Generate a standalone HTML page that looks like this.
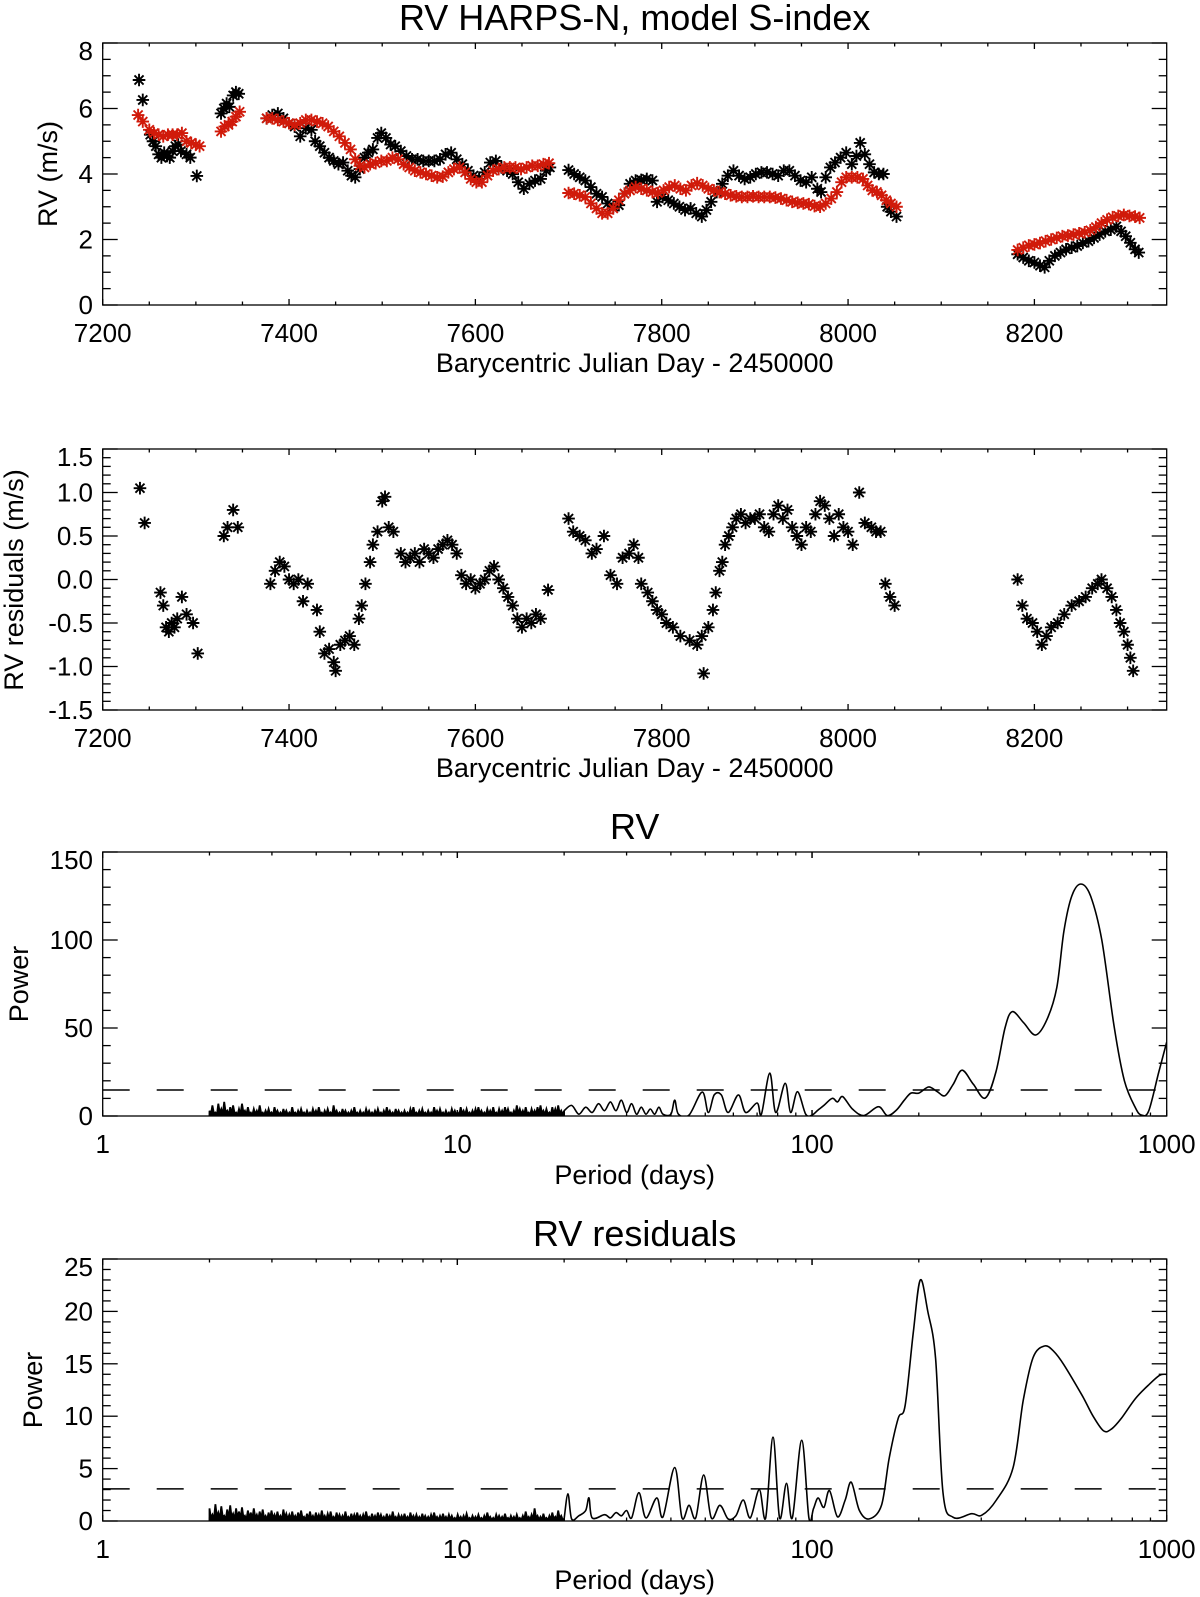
<!DOCTYPE html>
<html><head><meta charset="utf-8"><style>
html,body{margin:0;padding:0;background:#fff}
svg{display:block;font-family:"Liberation Sans",Arial,sans-serif}
</style></head><body>
<svg id="fig" width="1200" height="1597" viewBox="0 0 1200 1597" xmlns="http://www.w3.org/2000/svg"></svg>
<script>
// ===== DATA =====
const rvObsT=[7239,7243,7251,7254,7257,7260,7263,7266,7269,7272,7275,7278,7281,7284,7290,7294,7301,7327,7330,7333,7336,7340,7343,7346,7376,7382,7388,7394,7400,7406,7412,7418,7424,7428,7433,7438,7443,7448,7453,7458,7463,7467,7471,7476,7481,7485,7490,7495,7499,7504,7509,7514,7520,7526,7532,7538,7544,7550,7556,7562,7568,7574,7580,7586,7592,7598,7604,7610,7616,7622,7628,7634,7640,7646,7652,7658,7664,7670,7676,7680,7700,7706,7712,7718,7724,7730,7736,7742,7748,7754,7760,7766,7772,7778,7784,7790,7795,7801,7807,7813,7819,7825,7831,7837,7843,7848,7853,7859,7865,7871,7877,7883,7889,7895,7901,7907,7913,7919,7925,7931,7937,7943,7949,7955,7961,7967,7971,7976,7981,7986,7992,7998,8004,8009,8013,8018,8023,8028,8033,8038,8042,8046,8052,8182,8188,8194,8200,8206,8211,8216,8222,8228,8234,8240,8246,8252,8258,8264,8270,8276,8282,8288,8293,8298,8303,8308,8312];
const rvObsV=[6.87,6.26,5.2,5.0,4.85,4.6,4.5,4.65,4.55,4.5,4.7,4.85,4.9,4.7,4.6,4.5,3.94,5.85,6.0,6.15,6.05,6.4,6.5,6.45,5.7,5.8,5.85,5.7,5.55,5.45,5.15,5.4,5.35,5.0,4.85,4.65,4.5,4.4,4.3,4.35,4.1,3.95,3.9,4.15,4.5,4.65,4.75,5.1,5.25,5.1,4.9,4.85,4.7,4.55,4.45,4.45,4.4,4.4,4.4,4.45,4.6,4.65,4.45,4.3,4.1,3.95,3.85,4.05,4.35,4.4,4.2,4.1,4.0,3.75,3.55,3.7,3.8,3.85,4.1,4.2,4.12,4.0,3.9,3.8,3.6,3.4,3.3,3.1,3.0,3.05,3.4,3.7,3.8,3.82,3.85,3.8,3.15,3.3,3.2,3.1,3.0,2.9,2.95,2.8,2.7,2.9,3.15,3.45,3.7,3.95,4.1,3.95,3.85,3.9,4.0,4.05,4.05,4.0,3.95,4.1,4.1,3.95,3.8,3.75,3.9,3.55,3.45,3.9,4.2,4.35,4.5,4.65,4.3,4.55,4.95,4.6,4.3,4.05,4.0,4.0,3.0,2.85,2.7,1.55,1.45,1.35,1.3,1.2,1.15,1.35,1.5,1.6,1.7,1.75,1.8,1.9,1.95,2.05,2.15,2.25,2.3,2.4,2.25,2.1,1.9,1.7,1.6];
const rvModT=[7238,7243,7250,7255,7260,7265,7270,7275,7280,7285,7290,7295,7300,7304,7327,7331,7335,7339,7343,7347,7376,7382,7388,7394,7400,7406,7412,7418,7424,7430,7436,7442,7448,7454,7460,7466,7471,7476,7481,7487,7493,7499,7505,7511,7517,7523,7529,7535,7541,7547,7553,7559,7565,7571,7577,7583,7589,7595,7601,7607,7613,7619,7625,7631,7637,7643,7649,7655,7661,7667,7673,7679,7700,7706,7712,7718,7724,7730,7736,7742,7748,7754,7760,7766,7772,7778,7784,7790,7796,7802,7808,7814,7820,7826,7832,7838,7844,7850,7856,7862,7868,7874,7880,7886,7892,7898,7904,7910,7916,7922,7928,7934,7940,7946,7952,7958,7964,7970,7976,7982,7988,7993,7998,8004,8010,8016,8021,8026,8031,8036,8041,8046,8052,8182,8188,8194,8200,8206,8212,8218,8224,8230,8236,8242,8248,8254,8260,8266,8272,8278,8284,8290,8296,8302,8308,8313];
const rvModV=[5.8,5.6,5.35,5.25,5.2,5.15,5.2,5.2,5.2,5.25,5.0,4.95,4.9,4.85,5.3,5.45,5.5,5.6,5.75,5.9,5.7,5.7,5.65,5.6,5.55,5.5,5.55,5.65,5.65,5.6,5.55,5.45,5.3,5.15,4.95,4.75,4.45,4.25,4.2,4.3,4.33,4.4,4.4,4.5,4.45,4.3,4.2,4.1,4.05,4.0,3.95,3.9,3.92,4.05,4.15,4.2,4.05,3.85,3.75,3.75,3.95,4.1,4.15,4.2,4.2,4.2,4.15,4.2,4.25,4.25,4.3,4.33,3.42,3.4,3.35,3.3,3.1,2.95,2.8,2.8,2.95,3.2,3.4,3.5,3.6,3.55,3.5,3.45,3.42,3.5,3.6,3.65,3.55,3.5,3.65,3.72,3.65,3.55,3.5,3.45,3.4,3.35,3.32,3.3,3.3,3.32,3.3,3.3,3.3,3.28,3.25,3.2,3.15,3.12,3.1,3.08,3.02,3.0,3.1,3.25,3.45,3.75,3.9,3.9,3.9,3.85,3.65,3.5,3.45,3.35,3.2,3.1,3.0,1.68,1.75,1.82,1.85,1.89,1.95,2.0,2.05,2.1,2.12,2.15,2.19,2.22,2.28,2.38,2.5,2.6,2.68,2.72,2.75,2.72,2.7,2.66];
const resT=[7240,7245,7262,7265,7268,7271,7274,7277,7280,7285,7290,7297,7302,7330,7334,7340,7345,7380,7385,7390,7395,7400,7405,7410,7415,7420,7430,7433,7438,7443,7448,7450,7455,7460,7465,7470,7475,7478,7482,7487,7490,7495,7500,7503,7507,7512,7520,7525,7530,7535,7540,7545,7550,7555,7560,7565,7570,7575,7580,7585,7590,7595,7600,7605,7610,7615,7620,7625,7630,7635,7640,7645,7650,7655,7660,7665,7670,7678,7700,7705,7712,7718,7725,7730,7738,7745,7752,7758,7765,7770,7775,7778,7785,7790,7795,7800,7805,7812,7820,7830,7838,7843,7845,7850,7855,7858,7862,7865,7868,7872,7876,7880,7885,7890,7895,7900,7905,7910,7915,7920,7925,7930,7935,7940,7945,7950,7955,7960,7965,7970,7975,7980,7985,7990,7995,8000,8005,8012,8018,8025,8030,8035,8040,8045,8050,8182,8187,8192,8198,8203,8208,8213,8218,8225,8232,8240,8248,8255,8262,8268,8272,8278,8283,8288,8292,8296,8300,8303,8306];
const resV=[1.05,0.65,-0.15,-0.3,-0.55,-0.6,-0.5,-0.55,-0.45,-0.2,-0.4,-0.5,-0.85,0.5,0.6,0.8,0.6,-0.05,0.1,0.2,0.15,0.0,-0.05,0.0,-0.25,-0.05,-0.35,-0.6,-0.85,-0.8,-0.95,-1.05,-0.75,-0.7,-0.65,-0.75,-0.45,-0.3,-0.05,0.2,0.4,0.55,0.9,0.95,0.6,0.55,0.3,0.2,0.25,0.3,0.2,0.35,0.3,0.25,0.35,0.4,0.45,0.4,0.3,0.05,-0.05,0.0,-0.1,-0.05,0.0,0.1,0.15,0.0,-0.1,-0.2,-0.3,-0.45,-0.55,-0.45,-0.5,-0.4,-0.45,-0.12,0.7,0.55,0.5,0.45,0.3,0.35,0.5,0.05,-0.05,0.25,0.3,0.4,0.25,-0.05,-0.15,-0.25,-0.35,-0.4,-0.5,-0.55,-0.65,-0.7,-0.75,-0.65,-1.08,-0.55,-0.35,-0.15,0.1,0.2,0.4,0.5,0.6,0.7,0.75,0.65,0.7,0.7,0.75,0.6,0.55,0.75,0.85,0.7,0.8,0.6,0.5,0.4,0.6,0.55,0.75,0.9,0.85,0.7,0.5,0.75,0.6,0.55,0.4,1.0,0.65,0.6,0.55,0.55,-0.05,-0.2,-0.3,0.0,-0.3,-0.45,-0.5,-0.6,-0.75,-0.65,-0.55,-0.5,-0.4,-0.3,-0.25,-0.2,-0.1,-0.05,0.0,-0.1,-0.2,-0.35,-0.5,-0.6,-0.75,-0.9,-1.05];
const pg1Noise=[3,6,2,7,4,8,3,5,6,2,4,7,3,5,2,4,3,6,2,3,4,2,5,3,2,4,3,2,5,2,3,4,2,3,2,4,3,5,2,3,4,2,6,3,2,4,3,2,3,5,2,3,2,4,3,2,3,4,2,3,5,3,2,4,3,2,3,2,4,5,2,3,4,2,3,2,5,3,4,2,3,2,4,3,2,5,3,4,2,3,4,5,3,2,4,3,5,2,4,3,5,4,2,3,6,4,3,5,2,4,3,5,6,3,4,2,5,4,6,3];
const pg1Per=[20,21,22,23,24,25,26,27,28,29,30,31,32,33,34,35,36,37,38,40,41,42,45,49,51,53,55.5,58,62,65,70,72,76,79,84,87,91,96,100,104,108,114,118,122,130,140,154,163,173,182,190,200,213,225,237,250,265,285,308,330,350,367,395,427,460,490,513,540,573,610,656,711,760,817,850,890,950,1000];
const pg1Pow=[3,6,1,5,2,7,3,8,3,9,2,7,1,5,1,4,1,5,1,1,9,1,0.5,13.6,2,12,12,2,12,2,7.4,1,24.4,2,18.6,2,13.8,1,0.5,3.4,6,10,8,11,4,0.3,5.3,0.2,3.4,9,13,13,16.5,14,11.5,18,26,18,10.2,25,50,59.3,53,46,55,73,105,125,131.8,125,100,50.6,20,4.5,0.5,3,25,42];
const pg2Noise=[1.2,0.6,1.6,0.8,1.4,0.5,1.1,1.5,0.7,1.2,0.9,1.3,0.5,1.0,0.8,1.2,0.6,0.9,1.1,0.5,0.8,1.0,0.6,0.9,0.5,1.1,0.7,0.6,0.9,0.5,0.8,1.0,0.4,0.7,0.9,0.5,0.8,0.6,1.0,0.5,0.7,0.9,0.4,0.8,0.6,0.5,0.9,0.4,0.7,0.6,0.8,0.5,0.6,0.9,0.4,0.7,0.5,0.8,0.6,0.4,0.7,0.5,0.9,0.4,0.6,0.5,0.7,0.4,0.8,0.5,0.6,0.4,0.7,0.5,0.4,0.6,0.8,0.4,0.5,0.7,0.4,0.6,0.5,0.3,0.6,0.4,0.5,0.7,0.3,0.5,0.4,0.6,0.3,0.5,0.8,0.4,0.3,0.6,0.5,0.4,0.7,0.3,0.5,0.4,0.6,0.3,0.5,0.9,0.4,0.6,1.2,0.5,0.4,0.7,0.3,0.5,0.8,0.4,1.0,0.5];
const pg2Per=[20,20.5,21,22,23,23.5,24,26,27,28,29,30,31,32.5,34,36.5,38,41,43,45,47,49.5,52,55,58,61,64,67,71,74,77.6,81,84.7,88,93.5,98,101,104,108,112,118,124,129,136,145,157,165,175,183,193,202,212,223,234,250,282,301,331,369,394,420,452,480,513,577,620,664,700,745,817,890,955,1000];
const pg2Pow=[0.2,2.6,0.2,0.5,1.0,2.2,0.3,0.6,0.3,0.8,0.5,1.0,0.3,2.7,0.3,2.2,0.4,5.1,0.3,1.5,0.3,4.4,0.3,1.5,0.2,0.5,2.0,0.3,3,0.3,8,0.3,3.6,0.3,7.7,0.3,1.2,2.2,1.3,2.9,0.4,2,3.7,1,0.2,1.5,6,9.8,11,18,23,20,15.5,2.7,0.35,0.7,0.55,2,5.1,11.5,15.6,16.7,16.2,14.9,12,10,8.6,8.8,9.8,11.7,13,13.9,14];
const fapRV=14.8, fapRes=3.06;

// ===== DRAWING =====
const NS="http://www.w3.org/2000/svg";
const svg=document.getElementById('fig');
function mk(tag,attrs,parent){const e=document.createElementNS(NS,tag);for(const k in attrs)e.setAttribute(k,attrs[k]);(parent||svg).appendChild(e);return e;}
const XL=102.7, XR=1166.7;
const panels=[
 {id:'rv',y0:43,y1:305,xmin:7200,xmax:8342,ymin:0,ymax:8,log:false},
 {id:'res',y0:449,y1:710,xmin:7200,xmax:8342,ymin:-1.5,ymax:1.5,log:false},
 {id:'pg-rv',y0:852,y1:1116,xmin:1,xmax:1000,ymin:0,ymax:150,log:true},
 {id:'pg-res',y0:1259,y1:1521,xmin:1,xmax:1000,ymin:0,ymax:25,log:true}
];
panels.forEach(p=>{
 p.sx=v=>p.log?XL+(Math.log10(v)-Math.log10(p.xmin))/(Math.log10(p.xmax)-Math.log10(p.xmin))*(XR-XL):XL+(v-p.xmin)/(p.xmax-p.xmin)*(XR-XL);
 p.sy=v=>p.y1-(v-p.ymin)/(p.ymax-p.ymin)*(p.y1-p.y0);
});
function txt(s,x,y,size,anchor,name,rot){
 const t=mk('text',{x:x,y:y,'font-size':size,'text-anchor':anchor||'middle',fill:'#000'});
 if(rot)t.setAttribute('transform','rotate(-90 '+x+' '+y+')');
 
 
 t.textContent=s;return t;
}
function axes(p,yMajor,yMinor,yFmt,name){
 const g=mk('g',{stroke:'#000','stroke-width':1.3,fill:'none'});
 
 
 const f=mk('rect',{x:XL,y:p.y0,width:XR-XL,height:p.y1-p.y0},g);
 
 
 for(let v=p.ymin;v<=p.ymax+1e-9;v+=yMinor){
  const vv=Math.round(v*1000)/1000, y=p.sy(vv);
  const maj=Math.abs(vv/yMajor-Math.round(vv/yMajor))<1e-6;
  const L=maj?15:8;
  mk('line',{x1:XL,y1:y,x2:XL+L,y2:y},g);mk('line',{x1:XR,y1:y,x2:XR-L,y2:y},g);
  if(maj){let by=y+9;if(by<p.y0+17)by=p.y0+17;txt(yFmt(vv),93,by,26,'end',name+'-y-tick-label');}
 }
 if(p.log){
  for(let d=0;d<3;d++)for(let k=1;k<=10;k++){
   const v=Math.pow(10,d)*k;if(v>p.xmax)continue;const x=p.sx(v);const L=(k===1||k===10)?6:3.5;
   mk('line',{x1:x,y1:p.y1,x2:x,y2:p.y1-L},g);mk('line',{x1:x,y1:p.y0,x2:x,y2:p.y0+L},g);
  }
  [1,10,100,1000].forEach(v=>txt(String(v),p.sx(v),p.y1+37,26,'middle',name+'-x-tick-label'));
 }else{
  for(let v=7200;v<=p.xmax;v+=50){const x=p.sx(v);const L=(v%200===0)?6:3.5;
   mk('line',{x1:x,y1:p.y1,x2:x,y2:p.y1-L},g);mk('line',{x1:x,y1:p.y0,x2:x,y2:p.y0+L},g);}
  for(let v=7200;v<=8200;v+=200)txt(String(v),p.sx(v),p.y1+37,26,'middle',name+'-x-tick-label');
 }
}
function clip(p,id){const d=mk('defs',{});const c=mk('clipPath',{id:id},d);mk('rect',{x:XL,y:p.y0,width:XR-XL,height:p.y1-p.y0},c);}
function star(g,x,y,col,r){
 const d='M'+(x-r)+' '+y+'H'+(x+r)+'M'+x+' '+(y-r)+'V'+(y+r)+'M'+(x-r*0.72)+' '+(y-r*0.72)+'L'+(x+r*0.72)+' '+(y+r*0.72)+'M'+(x-r*0.72)+' '+(y+r*0.72)+'L'+(x+r*0.72)+' '+(y-r*0.72);
 return mk('path',{d:d,stroke:col,'stroke-width':1.9,fill:'none'},g);
}
function spline(pts){
 let d='M'+pts[0][0].toFixed(1)+' '+pts[0][1].toFixed(1);
 for(let i=0;i<pts.length-1;i++){
  const p0=pts[Math.max(0,i-1)],p1=pts[i],p2=pts[i+1],p3=pts[Math.min(pts.length-1,i+2)];
  const c1=[p1[0]+(p2[0]-p0[0])/6,p1[1]+(p2[1]-p0[1])/6],c2=[p2[0]-(p3[0]-p1[0])/6,p2[1]-(p3[1]-p1[1])/6];
  d+='C'+c1[0].toFixed(1)+' '+c1[1].toFixed(1)+' '+c2[0].toFixed(1)+' '+c2[1].toFixed(1)+' '+p2[0].toFixed(1)+' '+p2[1].toFixed(1);
 }return d;
}

txt('RV HARPS-N, model S-index',634.7,30,36,'middle','chart-title');
txt('RV',634.7,839,36,'middle','periodogram-rv-title');
txt('RV residuals',634.7,1246,36,'middle','periodogram-residuals-title');

const P1=panels[0];
axes(P1,2,0.5,v=>String(v),'rv-panel');
txt('Barycentric Julian Day - 2450000',634.7,372,27,'middle','rv-x-axis-title');
txt('RV (m/s)',57,174,27,'middle','rv-y-axis-title',true);
const gObs=mk('g',{});
rvObsT.forEach((t,i)=>{const s=star(gObs,P1.sx(t),P1.sy(rvObsV[i]),'#000',6.3);
 
 });
const gMod=mk('g',{});
rvModT.forEach((t,i)=>{const s=star(gMod,P1.sx(t),P1.sy(rvModV[i]),'#d01a0a',6.3);
 
 });

const P2=panels[1];
axes(P2,0.5,0.1,v=>v.toFixed(1),'residual-panel');
txt('Barycentric Julian Day - 2450000',634.7,777,27,'middle','residual-x-axis-title');
txt('RV residuals (m/s)',23,580,27,'middle','residual-y-axis-title',true);
const gRes=mk('g',{});
resT.forEach((t,i)=>{const s=star(gRes,P2.sx(t),P2.sy(resV[i]),'#000',6.3);
 
 });

function pgram(P,noise,per,pow,fap,name,cid){
 clip(P,cid);
 const n=noise.length;let d='';
 for(let i=0;i<n;i++){
  const pp=2*Math.pow(10,i/n), pn=2*Math.pow(10,(i+0.5)/n);
  const x=P.sx(pp),y=P.sy(noise[i]),xb=P.sx(pn),yb=P.sy(noise[i]*0.25);
  d+=(i===0?'M'+x.toFixed(1)+' '+P.sy(0).toFixed(1)+'L':'L')+x.toFixed(1)+' '+y.toFixed(1)+'L'+xb.toFixed(1)+' '+yb.toFixed(1);
 }
 d+='L'+P.sx(20).toFixed(1)+' '+P.sy(pow[0]).toFixed(1)+'L'+P.sx(20).toFixed(1)+' '+P.sy(0).toFixed(1)+'Z';
 const nz=mk('path',{d:d,stroke:'#000','stroke-width':1.8,fill:'#000','clip-path':'url(#'+cid+')'});
 
 
 const pts=per.map((q,i)=>[P.sx(q),P.sy(pow[i])]);
 const ln=mk('path',{d:spline(pts),stroke:'#000','stroke-width':1.6,fill:'none','clip-path':'url(#'+cid+')'});
 
 
 const fl=mk('line',{x1:XL,y1:P.sy(fap),x2:XR,y2:P.sy(fap),stroke:'#000','stroke-width':1.5,'stroke-dasharray':'27 27'});
 
 
}
const P3=panels[2];
axes(P3,50,10,v=>String(v),'periodogram-rv');
pgram(P3,pg1Noise,pg1Per,pg1Pow,fapRV,'periodogram-rv','c3');
txt('Period (days)',634.7,1184,27,'middle','periodogram-rv-x-axis-title');
txt('Power',28,984,27,'middle','periodogram-rv-y-axis-title',true);
const P4=panels[3];
axes(P4,5,1,v=>String(v),'periodogram-res');
pgram(P4,pg2Noise,pg2Per,pg2Pow,fapRes,'periodogram-res','c4');
txt('Period (days)',634.7,1589,27,'middle','periodogram-res-x-axis-title');
txt('Power',42,1390,27,'middle','periodogram-res-y-axis-title',true);
</script>
</body></html>
